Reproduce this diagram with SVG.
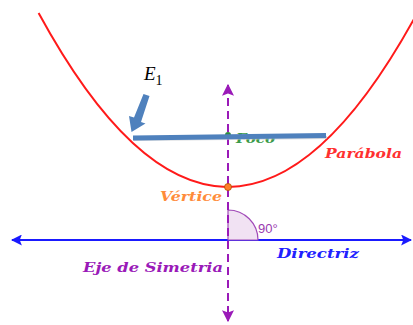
<svg xmlns="http://www.w3.org/2000/svg" width="413" height="325" viewBox="0 0 413 325">
<style>
.lbl{font-family:"DejaVu Serif","Liberation Serif",serif;font-style:italic;font-weight:bold;font-size:13px}
</style>
<defs>
<marker id="ab" viewBox="0 0 10 10" refX="9" refY="5" markerWidth="5" markerHeight="5" orient="auto-start-reverse" markerUnits="strokeWidth"><path d="M0,0 L10,5 L0,10 L2,5 z" fill="#1a1aff"/></marker>
<marker id="ap" viewBox="0 0 10 10" refX="9" refY="5" markerWidth="6" markerHeight="6" orient="auto-start-reverse" markerUnits="strokeWidth"><path d="M0,0 L10,5 L0,10 L2,5 z" fill="#9a1ab8"/></marker>
</defs>
<rect width="413" height="325" fill="#ffffff"/>
<g id="connectors">
<path id="parabola" d="M38.6,13 Q226.3,357.8 414,19" fill="none" stroke="#ff1a1a" stroke-width="2"/>
<line id="directriz-line" x1="12" y1="240" x2="411" y2="240" stroke="#1a1aff" stroke-width="2.2" marker-start="url(#ab)" marker-end="url(#ab)"/>
<path id="angle" d="M228,240 L228,210 A30,30 0 0 1 258,240 Z" fill="#f1e2f3" stroke="#a14ab8" stroke-width="1.2"/>
<line id="axis" x1="228" y1="85" x2="228" y2="321" stroke="#9a1ab8" stroke-width="2" stroke-dasharray="8,5" marker-start="url(#ap)" marker-end="url(#ap)"/>
</g>
<g id="foco">
<circle cx="228" cy="135" r="3" fill="#2e8b3e"/>
<text class="lbl" x="236" y="143" fill="#3a9a4a" textLength="39" lengthAdjust="spacingAndGlyphs">Foco</text>
</g>
<g id="e1-line">
<line x1="134" y1="139.5" x2="327" y2="137.5" stroke="#bfc3c8" stroke-width="3" opacity="0.6"/>
<line x1="133" y1="138" x2="326" y2="135.5" stroke="#4f81bd" stroke-width="5"/>
</g>
<g id="vertice">
<circle cx="228" cy="187" r="3.5" fill="#ff7f2a" stroke="#b34d00" stroke-width="0.8"/>
<text class="lbl" x="160" y="201" fill="#ff8c3a" textLength="62" lengthAdjust="spacingAndGlyphs">Vértice</text>
</g>
<g id="parabola-label"><text class="lbl" x="325" y="158" fill="#ff3030" font-weight="normal" textLength="77" lengthAdjust="spacingAndGlyphs">Parábola</text></g>
<g id="directriz"><text class="lbl" x="277" y="258" fill="#2020ff" textLength="82" lengthAdjust="spacingAndGlyphs">Directriz</text></g>
<g id="eje"><text class="lbl" x="83" y="272" fill="#9a1ab8" textLength="140" lengthAdjust="spacingAndGlyphs">Eje de Simetria</text></g>
<g id="angle-label"><text x="258" y="233" font-family="Liberation Sans, Arial, sans-serif" font-size="13" fill="#9a3ab0">90°</text></g>
<g id="e1">
<path d="M143.5,94 L149.5,96 L141,122 L145.5,123.5 L131.5,132 L129,116 L134,117.5 Z" fill="#4f81bd"/>
<text x="144" y="80" font-family="Liberation Serif, DejaVu Serif, serif" font-style="italic" font-size="19" fill="#000">E<tspan font-style="normal" font-size="14" dy="5">1</tspan></text>
</g>
</svg>
